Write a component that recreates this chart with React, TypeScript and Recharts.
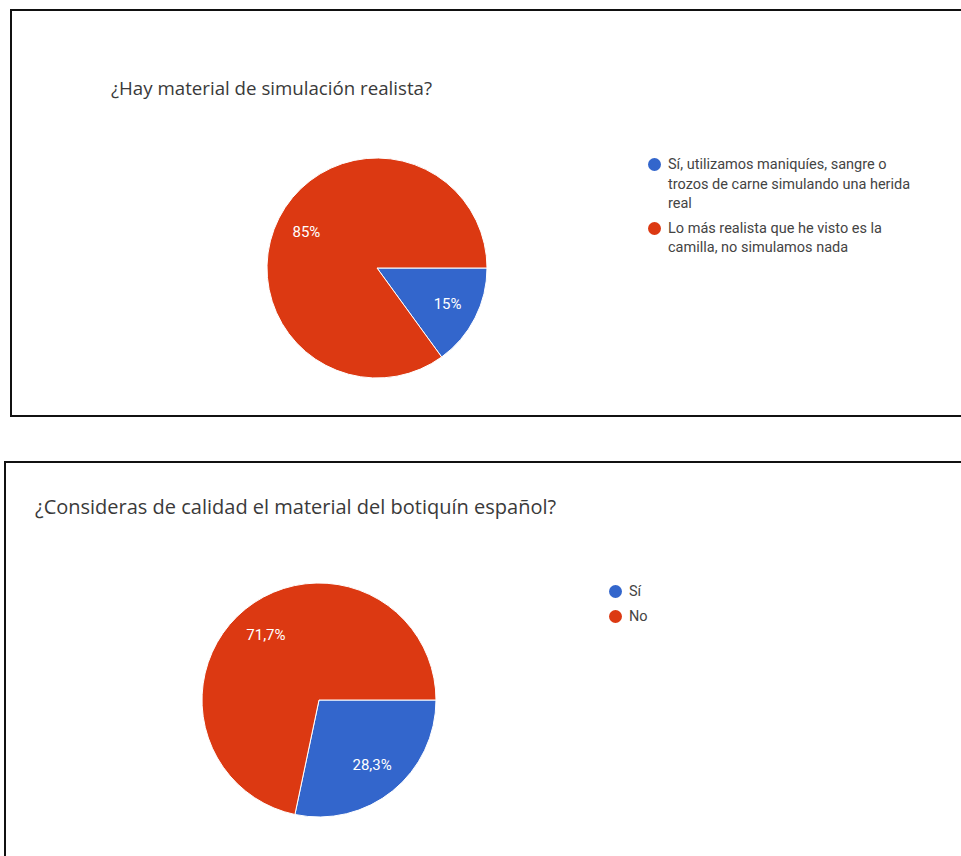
import { PieChart, Pie, Cell, Legend } from 'recharts';

const simLabels = [
  'Sí, utilizamos maniquíes, sangre o trozos de carne simulando una herida real',
  'Lo más realista que he visto es la camilla, no simulamos nada',
];
const simValues = [15, 85];
const simText = ['15%', '85%'];

const qualityLabels = ['Sí', 'No'];
const qualityValues = [28.3, 71.7];
const qualityText = ['28,3%', '71,7%'];

const colors = ['#3366cc', '#dc3912'];
const RAD = Math.PI / 180;

function toData(names: string[], values: number[], text: string[]) {
  return names.map((name, i) => ({ name, value: values[i], text: text[i] }));
}

function SliceLabel({ cx, cy, midAngle, outerRadius, payload }: any) {
  const r = outerRadius * 0.72;
  const x = cx + r * Math.cos(-midAngle * RAD);
  const y = cy + r * Math.sin(-midAngle * RAD);
  return (
    <text
      x={x}
      y={y}
      fill="#fff"
      fontSize={15}
      fontFamily="Roboto, Arial, sans-serif"
      textAnchor="middle"
      dominantBaseline="central"
    >
      {payload.text}
    </text>
  );
}

function LegendList({ items, width }: { items: string[]; width: number }) {
  return (
    <div style={{ width, fontFamily: 'Roboto, Arial, sans-serif', fontSize: 14.5, color: '#444', lineHeight: '19.5px' }}>
      {items.map((t, i) => (
        <div key={i} style={{ position: 'relative', paddingLeft: 20, marginBottom: 5 }}>
          <span
            style={{
              position: 'absolute',
              left: 0,
              top: 3,
              width: 13,
              height: 13,
              borderRadius: '50%',
              background: colors[i],
            }}
          />
          {t}
        </div>
      ))}
    </div>
  );
}

function PieBlock({
  data,
  cx,
  cy,
  radius,
  top,
  height,
  legend,
  legendLeft,
  legendTop,
  legendWidth,
}: any) {
  return (
    <div style={{ position: 'absolute', left: 0, top }}>
      <PieChart width={961} height={height} margin={{ top: 0, right: 0, bottom: 0, left: 0 }}>
        <Pie
          data={data}
          dataKey="value"
          nameKey="name"
          cx={cx}
          cy={cy - top}
          outerRadius={radius}
          startAngle={0}
          endAngle={-360}
          stroke="#fff"
          strokeWidth={1}
          label={<SliceLabel />}
          labelLine={false}
          isAnimationActive={false}
        >
          {data.map((_: any, i: number) => (
            <Cell key={i} fill={colors[i]} />
          ))}
        </Pie>
        <Legend
          content={() => <LegendList items={legend} width={legendWidth} />}
          wrapperStyle={{ left: legendLeft, top: legendTop - top, width: legendWidth }}
        />
      </PieChart>
    </div>
  );
}

export default function App() {
  return (
    <div
      style={{
        position: 'absolute',
        left: 0,
        top: 0,
        width: 961,
        height: 856,
        overflow: 'hidden',
        background: '#fff',
      }}
    >
      <div
        style={{
          position: 'absolute',
          left: 10,
          top: 9,
          width: 980,
          height: 404,
          border: '2px solid #111',
        }}
      />
      <div
        style={{
          position: 'absolute',
          left: 4,
          top: 461,
          width: 990,
          height: 420,
          border: '2px solid #111',
        }}
      />
      <div
        style={{
          position: 'absolute',
          left: 111,
          top: 75,
          fontFamily: '"Open Sans", Roboto, Arial, sans-serif',
          fontSize: 18.7,
          color: '#3a3a3a',
          whiteSpace: 'nowrap',
        }}
      >
        ¿Hay material de simulación realista?
      </div>
      <div
        style={{
          position: 'absolute',
          left: 35,
          top: 493,
          fontFamily: '"Open Sans", Roboto, Arial, sans-serif',
          fontSize: 20,
          color: '#3a3a3a',
          whiteSpace: 'nowrap',
        }}
      >
        ¿Consideras de calidad el material del botiquín español?
      </div>
      <PieBlock
        data={toData(simLabels, simValues, simText)}
        cx={377}
        cy={268}
        radius={110}
        top={20}
        height={390}
        legend={simLabels}
        legendLeft={648}
        legendTop={155}
        legendWidth={277}
      />
      <PieBlock
        data={toData(qualityLabels, qualityValues, qualityText)}
        cx={319}
        cy={700}
        radius={117}
        top={470}
        height={380}
        legend={qualityLabels}
        legendLeft={609}
        legendTop={582}
        legendWidth={120}
      />
    </div>
  );
}
